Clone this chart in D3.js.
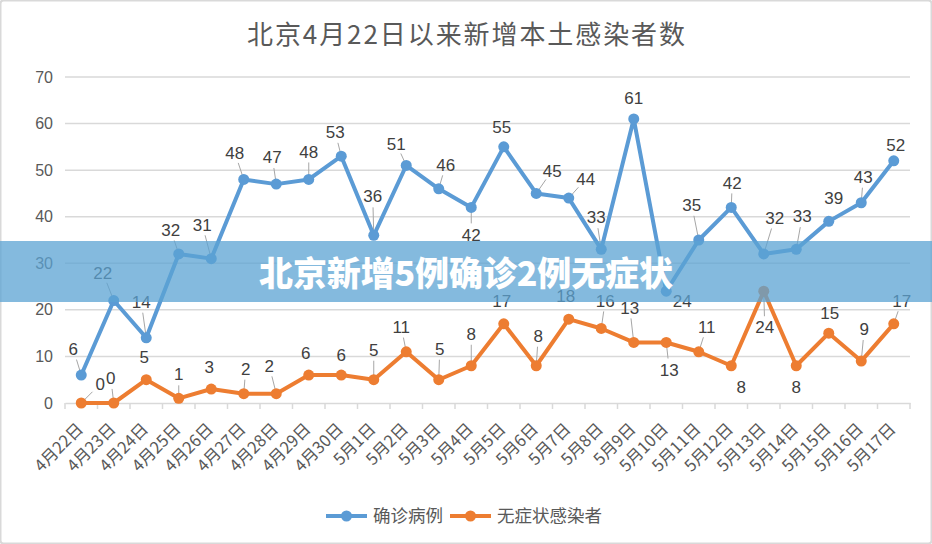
<!DOCTYPE html>
<html>
<head>
<meta charset="utf-8">
<script src="https://cdn.jsdelivr.net/npm/d3@7"></script>
<style>
  body { margin: 0; background: #fff; }
  text { font-family: "Liberation Sans", "Noto Sans CJK SC", sans-serif; }
  .cjk { font-family: "Noto Sans CJK SC", sans-serif; }
</style>
</head>
<body>
<div id="chart"></div>
<script>
// data
var dates = ["4月22日","4月23日","4月24日","4月25日","4月26日","4月27日","4月28日","4月29日","4月30日",
             "5月1日","5月2日","5月3日","5月4日","5月5日","5月6日","5月7日","5月8日","5月9日","5月10日",
             "5月11日","5月12日","5月13日","5月14日","5月15日","5月16日","5月17日"];
var confirmed = [6,22,14,32,31,48,47,48,53,36,51,46,42,55,45,44,33,61,24,35,42,32,33,39,43,52];
var asymptomatic = [0,0,5,1,3,2,2,6,6,5,11,5,8,17,8,18,16,13,13,11,8,24,8,15,9,17];
var yTicks = [0,10,20,30,40,50,60,70];
var seriesNames = ["确诊病例","无症状感染者"];

// label placement (dx, dy from the point), like the hand-dragged labels of the original
var confirmedLabelPos = [[-8,-26],[-11,-28],[-5,-36],[-8,-24],[-9,-34],[-9,-27],[-4,-27],[0,-28],[-6,-24],
  [-1,-39],[-10,-22],[7,-24],[0,27],[-2,-20],[16,-23],[17,-19],[-5,-32],[0,-21],[16,10],
  [-7,-35],[1,-25],[11,-36],[6,-33],[5,-23],[2,-26],[2,-16]];
var asymLabelPos = [[19,-19],[-3,-25],[-2,-23],[0,-24],[-2,-22],[2,-25],[-7,-28],[-3,-22],[0,-20],
  [0,-30],[-5,-25],[1,-31],[0,-32],[-2,-23],[2,-30],[-3,-23],[4,-28],[-4,-35],[3,27],
  [8,-25],[10,21],[1,36],[0,21],[1,-20],[3,-32],[8,-23]];

var W = 932, H = 544;
var blue = "#5b9bd5", orange = "#ed7d31";

var svg = d3.select("#chart").append("svg")
  .attr("width", W).attr("height", H);

svg.append("rect")
  .attr("x", 0.5).attr("y", 0.5).attr("width", W - 1).attr("height", H - 1)
  .attr("rx", 3)
  .attr("fill", "#fff").attr("stroke", "#d9d9d9").attr("stroke-width", 2);

svg.append("text")
  .attr("class", "cjk")
  .attr("x", W / 2).attr("y", 44)
  .attr("text-anchor", "middle")
  .attr("font-size", "26px")
  .attr("fill", "#595959")
  .attr("textLength", 438).attr("lengthAdjust", "spacing")
  .text("北京4月22日以来新增本土感染者数");

var plotLeft = 65, plotRight = 910, plotTop = 77, plotBottom = 403;

var x = d3.scaleBand().domain(dates).range([plotLeft, plotRight]);
var y = d3.scaleLinear().domain([0, 70]).range([plotBottom, plotTop]);

// gridlines
svg.append("g").selectAll("line")
  .data(yTicks.filter(function(d) { return d > 0; }))
  .enter().append("line")
  .attr("x1", plotLeft).attr("x2", plotRight)
  .attr("y1", function(d) { return y(d); })
  .attr("y2", function(d) { return y(d); })
  .attr("stroke", "#d9d9d9").attr("stroke-width", 1.5);

// y axis labels
var yAxis = svg.append("g")
  .attr("transform", "translate(" + (plotLeft - 12) + ",0)")
  .call(d3.axisLeft(y).tickValues(yTicks).tickSize(0).tickPadding(0));
yAxis.select(".domain").remove();
yAxis.selectAll("text")
  .attr("font-size", "16px")
  .attr("fill", "#595959")
  .style("font-family", "Liberation Sans, sans-serif");

// x axis
var xAxis = svg.append("g")
  .attr("transform", "translate(0," + plotBottom + ")")
  .call(d3.axisBottom(x).tickSize(0).tickFormat(""));
xAxis.select(".domain").attr("stroke", "#d9d9d9").attr("stroke-width", 1.5);

var bounds = dates.map(function(d) { return x(d); }).concat([plotRight]);
svg.append("g").selectAll("line")
  .data(bounds).enter().append("line")
  .attr("x1", function(d) { return d; }).attr("x2", function(d) { return d; })
  .attr("y1", plotBottom).attr("y2", plotBottom + 6)
  .attr("stroke", "#d9d9d9").attr("stroke-width", 1.5);

svg.append("g").selectAll("text")
  .data(dates).enter().append("text")
  .attr("class", "cjk")
  .attr("transform", function(d) {
    return "translate(" + (x(d) + x.bandwidth() / 2 + 3) + "," + (plotBottom + 27) + ") rotate(-45)";
  })
  .attr("text-anchor", "end")
  .attr("font-size", "16.5px")
  .attr("fill", "#595959")
  .text(function(d) { return d; });

function cx(i) { return x(dates[i]) + x.bandwidth() / 2; }

var line = d3.line()
  .x(function(d, i) { return cx(i); })
  .y(function(d) { return y(d); });

function drawSeries(values, color, labelPos) {
  var g = svg.append("g");
  // leader lines
  g.selectAll("line.leader").data(values).enter().append("line")
    .attr("class", "leader")
    .each(function(d, i) {
      var px = cx(i), py = y(d);
      var dx = labelPos[i][0], dy = labelPos[i][1];
      var dist = Math.sqrt(dx * dx + dy * dy);
      var sel = d3.select(this);
      if (dist < 24) { sel.remove(); return; }
      var ux = dx / dist, uy = dy / dist;
      sel.attr("x1", px + ux * 2).attr("y1", py + uy * 2)
         .attr("x2", px + ux * (dist - 11)).attr("y2", py + uy * (dist - 11));
    })
    .attr("stroke", "#a6a6a6").attr("stroke-width", 1);

  g.append("path")
    .datum(values)
    .attr("d", line)
    .attr("fill", "none")
    .attr("stroke", color)
    .attr("stroke-width", 4)
    .attr("stroke-linejoin", "round");

  g.selectAll("circle").data(values).enter().append("circle")
    .attr("cx", function(d, i) { return cx(i); })
    .attr("cy", function(d) { return y(d); })
    .attr("r", 5.5)
    .attr("fill", color);

  g.selectAll("text").data(values).enter().append("text")
    .attr("x", function(d, i) { return cx(i) + labelPos[i][0]; })
    .attr("y", function(d, i) { return y(d) + labelPos[i][1]; })
    .attr("dy", "0.36em")
    .attr("text-anchor", "middle")
    .attr("font-size", "17px")
    .attr("fill", "#404040")
    .text(function(d) { return d; });
}

drawSeries(confirmed, blue, confirmedLabelPos);
drawSeries(asymptomatic, orange, asymLabelPos);

// legend
var legend = svg.append("g").attr("transform", "translate(0,516)");
var legendItems = [
  { name: seriesNames[0], color: blue, x: 326 },
  { name: seriesNames[1], color: orange, x: 450 }
];
legendItems.forEach(function(it) {
  legend.append("line")
    .attr("x1", it.x).attr("x2", it.x + 41)
    .attr("stroke", it.color).attr("stroke-width", 4);
  legend.append("circle")
    .attr("cx", it.x + 20.5).attr("r", 5.5).attr("fill", it.color);
  legend.append("text")
    .attr("class", "cjk")
    .attr("x", it.x + 47).attr("dy", "0.36em")
    .attr("font-size", "17.5px")
    .attr("fill", "#595959")
    .text(it.name);
});

// headline banner over the chart
svg.append("rect")
  .attr("x", 0).attr("y", 241).attr("width", W).attr("height", 61)
  .attr("fill", "#5ba3d3").attr("opacity", 0.75);
svg.append("text")
  .attr("class", "cjk")
  .attr("x", W / 2).attr("y", 286)
  .attr("text-anchor", "middle")
  .attr("font-size", "34px")
  .attr("font-weight", "900")
  .attr("fill", "#fff")
  .attr("textLength", 414).attr("lengthAdjust", "spacing")
  .text("北京新增5例确诊2例无症状");
</script>
</body>
</html>
